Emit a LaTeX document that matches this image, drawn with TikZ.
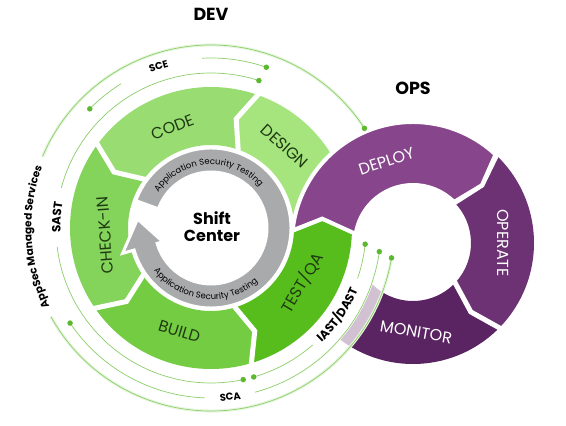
\documentclass[tikz,border=0pt]{standalone}
\usepackage{fontspec}
\setmainfont{Poppins}
\usepackage{tikz}
\usetikzlibrary{positioning, calc, decorations.text}
\definecolor{designgreen}{HTML}{A6E57E}
\definecolor{codegreen}{HTML}{98DC72}
\definecolor{checkgreen}{HTML}{84D35A}
\definecolor{buildgreen}{HTML}{74CC42}
\definecolor{testgreen}{HTML}{56BD1C}
\definecolor{deploypurple}{HTML}{87468C}
\definecolor{operatepurple}{HTML}{6C3274}
\definecolor{monitorpurple}{HTML}{5A2361}
\definecolor{astgray}{HTML}{A9AAAC}
\definecolor{linegreen}{HTML}{8CCF6A}
\definecolor{dotgreen}{HTML}{5CB82E}
\definecolor{labelgreen}{HTML}{1F3A12}
\tikzstyle{devlabel} = [font=\fontsize{16}{16}\selectfont, text=labelgreen, inner sep=0pt]
\tikzstyle{opslabel} = [font=\fontsize{16}{16}\selectfont, text=white, inner sep=0pt]
\tikzstyle{title} = [font=\bfseries\fontsize{17.5}{17.5}\selectfont, inner sep=0pt]
\tikzstyle{toollink} = [linegreen, line width=0.7pt]
\tikzstyle{toolglow} = [linegreen!22, line width=3pt]
\tikzstyle{tooldot} = [circle, fill=dotgreen, minimum size=5.5pt, inner sep=0pt]
\tikzstyle{gapline} = [white, line width=5pt, line join=miter]

\begin{document}
\begin{tikzpicture}[x=1pt, y=1pt]
\useasboundingbox (0,0) rectangle (566,426);
\coordinate (dev) at (211,198);
\coordinate (ops) at (413,183);

% ops ring, lower part
\begin{scope}[shift={(ops)}]
\fill[operatepurple] (47:121pt) arc[start angle=47, end angle=-44, radius=121pt] -- (-50:90pt)
  -- (-42:58pt) arc[start angle=-42, end angle=45, radius=58pt] -- (40:90pt) -- cycle;
\fill[monitorpurple] (-44:121pt) arc[start angle=-44, end angle=-140, radius=121pt]
  -- (-140:58pt) arc[start angle=-140, end angle=-42, radius=58pt] -- (-50:90pt) -- cycle;
\draw[gapline] (47:125pt) -- (40:90pt) -- (45:54pt);
\draw[gapline] (-44:125pt) -- (-50:90pt) -- (-42:54pt);
\end{scope}

\fill[white] (dev) circle[radius=171pt];
\fill[white, opacity=0.72] (dev) circle[radius=183pt];

% dev ring
\begin{scope}[shift={(dev)}]
\fill[designgreen] (-2:141pt) arc[start angle=-2, end angle=70, radius=141pt] -- (77:112pt)
  -- (70:83pt) arc[start angle=70, end angle=-2, radius=83pt] -- (5:112pt) -- cycle;
\fill[codegreen] (70:141pt) arc[start angle=70, end angle=143, radius=141pt] -- (150:112pt)
  -- (143:83pt) arc[start angle=143, end angle=70, radius=83pt] -- (77:112pt) -- cycle;
\fill[checkgreen] (143:141pt) arc[start angle=143, end angle=214, radius=141pt] -- (221:112pt)
  -- (214:83pt) arc[start angle=214, end angle=143, radius=83pt] -- (150:112pt) -- cycle;
\fill[buildgreen] (214:141pt) arc[start angle=214, end angle=286, radius=141pt] -- (293:112pt)
  -- (286:83pt) arc[start angle=286, end angle=214, radius=83pt] -- (221:112pt) -- cycle;
\fill[testgreen] (286:141pt) arc[start angle=286, end angle=358, radius=141pt] -- (365:112pt)
  -- (358:83pt) arc[start angle=358, end angle=286, radius=83pt] -- (293:112pt) -- cycle;
\draw[gapline] (70:80pt) -- (77:112pt) -- (70:145pt);
\draw[gapline] (143:80pt) -- (150:112pt) -- (143:145pt);
\draw[gapline] (214:80pt) -- (221:112pt) -- (214:145pt);
\draw[gapline] (286:80pt) -- (293:112pt) -- (286:145pt);
\draw[gapline] (358:80pt) -- (365:112pt) -- (358:145pt);
\filldraw[fill=astgray, draw=white, line width=3pt] (160:80pt) arc[start angle=160, end angle=-164, radius=80pt]
  -- (-164:92pt) -- (173:74pt) -- (-164:50pt) -- (-164:56pt)
  arc[start angle=-164, end angle=160, radius=56pt] -- cycle;
\path[decorate, decoration={text along path, text align=center,
  text={|\fontsize{8.5}{8.5}\selectfont|Application Security Testing}}]
  (162:63.5pt) arc[start angle=162, end angle=24, radius=63.5pt];
\path[decorate, decoration={text along path, text align=center,
  text={|\fontsize{8.5}{8.5}\selectfont|Application Security Testing}}]
  (198:71.5pt) arc[start angle=198, end angle=330, radius=71.5pt];
\end{scope}

% ops ring, deploy on top
\begin{scope}[shift={(ops)}]
\filldraw[fill=deploypurple, draw=white, line width=4pt] (174:121pt) arc[start angle=174, end angle=47, radius=121pt]
  -- (40:90pt) -- (45:58pt) arc[start angle=45, end angle=171, radius=58pt] -- (165:94pt) -- cycle;
\end{scope}

% tool lines
\begin{scope}[shift={(dev)}]
\draw[toolglow] (157:183pt) arc[start angle=157, end angle=33, radius=183pt];
\draw[toolglow] (209:183pt) arc[start angle=209, end angle=350.6, radius=183pt];
\draw[toollink] (72:155pt) arc[start angle=72, end angle=165, radius=155pt];
\draw[toollink] (187:155pt) arc[start angle=187, end angle=282, radius=155pt];
\draw[toollink] (286:155pt) arc[start angle=286, end angle=311, radius=155pt];
\draw[toollink] (341:155pt) arc[start angle=341, end angle=354, radius=155pt];
\draw[toollink] (135.5:170pt) arc[start angle=135.5, end angle=122, radius=170pt];
\draw[toollink] (93:170pt) arc[start angle=93, end angle=71, radius=170pt];
\draw[toollink] (214:170pt) arc[start angle=214, end angle=268, radius=170pt];
\draw[toollink] (285:170pt) arc[start angle=285, end angle=352, radius=170pt];
\draw[toollink] (157:183pt) arc[start angle=157, end angle=33, radius=183pt];
\draw[toollink] (209:183pt) arc[start angle=209, end angle=350.6, radius=183pt];
\node[tooldot] (sastdot) at (72:155pt) {};
\node[tooldot] (scadotleft) at (282:155pt) {};
\node[tooldot] (iastdotlow) at (286:155pt) {};
\node[tooldot] (iastdot) at (354:155pt) {};
\node[tooldot] (scedotleft) at (135.5:170pt) {};
\node[tooldot] (scedot) at (71:170pt) {};
\node[tooldot] (scadot) at (214:170pt) {};
\node[tooldot] (scadotright) at (352:170pt) {};
\node[tooldot] (appsecdot) at (33:183pt) {};
\node[tooldot] (appsecdotright) at (350.6:183pt) {};
\path[decorate, decoration={text along path, text align=center,
  text={|\bfseries\fontsize{10}{10}\selectfont|SCE}}]
  (125:166.5pt) arc[start angle=125, end angle=91, radius=166.5pt];
\path[decorate, decoration={text along path, text align=center,
  text={|\bfseries\fontsize{12}{12}\selectfont|SAST}}]
  (194:150.5pt) arc[start angle=194, end angle=158, radius=150.5pt];
\path[decorate, decoration={text along path, text align=center,
  text={|\bfseries\fontsize{10.5}{10.5}\selectfont|AppSec Managed Services}}]
  (212:179.5pt) arc[start angle=212, end angle=154, radius=179.5pt];
\path[decorate, decoration={text along path, text align=center,
  text={|\bfseries\fontsize{10}{10}\selectfont|SCA}}]
  (262:173.5pt) arc[start angle=262, end angle=291, radius=173.5pt];
\path[decorate, decoration={text along path, text align=center,
  text={|\bfseries\fontsize{12}{12}\selectfont|IAST/DAST}}]
  (303:159.5pt) arc[start angle=303, end angle=348, radius=159.5pt];
\end{scope}

\node[title] (devtitle) at (211,412) {DEV};
\node[title] (opstitle) at (413,338) {OPS};
\node[align=center, font=\bfseries\fontsize{16}{17}\selectfont, inner sep=0pt] (shiftcenter) at (212,199) {Shift\\Center};

\node[devlabel, rotate=21] (code) at ($(dev)+(111:108pt)$) {CODE};
\node[devlabel, rotate=-42] (design) at ($(dev)+(48:110pt)$) {DESIGN};
\node[devlabel, rotate=94] (checkin) at ($(dev)+(184:106pt)$) {CHECK-IN};
\node[devlabel, rotate=-17] (build) at ($(dev)+(253:108pt)$) {BUILD};
\node[devlabel, rotate=59] (testqa) at ($(dev)+(-31:106pt)$) {TEST/QA};

\node[opslabel, rotate=18] (deploy) at ($(ops)+(108:86pt)$) {DEPLOY};
\node[opslabel, rotate=-90] (operate) at ($(ops)+(0:90pt)$) {OPERATE};
\node[opslabel, rotate=-10] (monitor) at ($(ops)+(-88:89pt)$) {MONITOR};
\end{tikzpicture}
\end{document}
